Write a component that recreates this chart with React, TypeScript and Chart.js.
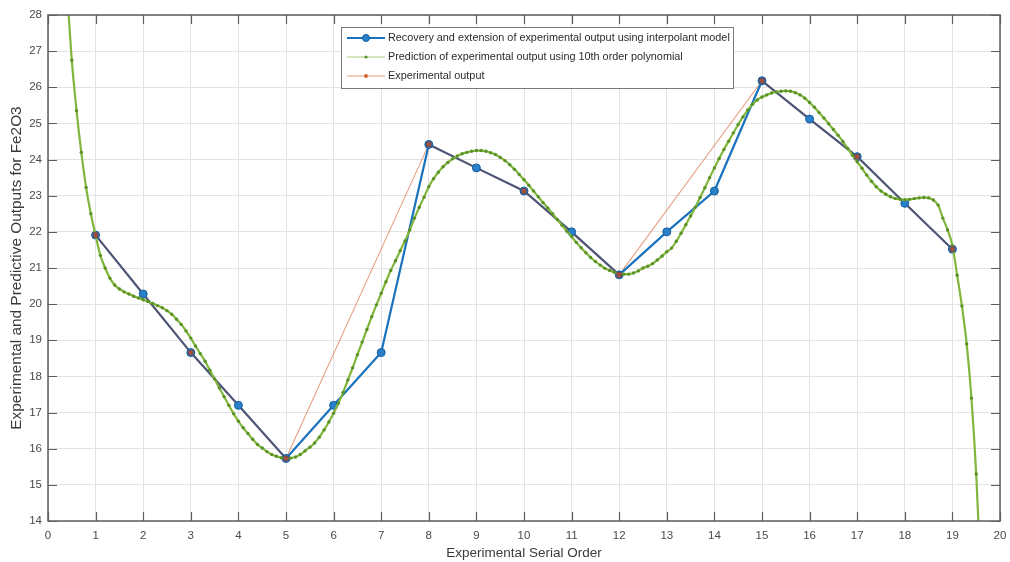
import React, { useEffect, useRef } from "react";
import { Chart, registerables } from "chart.js";

Chart.register(...registerables);

// ---------------- data ----------------
const recoveryX = [1, 2, 3, 4, 5, 6, 7, 8, 9, 10, 11, 12, 13, 14, 15, 16, 17, 18, 19];
const recoveryY = [21.91, 20.28, 18.66, 17.2, 15.73, 17.2, 18.66, 24.42, 23.77, 23.13, 22.0, 20.81, 22.0, 23.13, 26.18, 25.12, 24.08, 22.79, 21.52];

const experimentalX = [1, 3, 5, 8, 10, 12, 15, 17, 19];
const experimentalY = [21.91, 18.66, 15.73, 24.42, 23.13, 20.81, 26.18, 24.08, 21.52];

// 10th order polynomial prediction, read every 0.1 from x = 0.4 to 19.6
const POLY_START = 0.4;
const POLY_STEP = 0.1;
const polyY = [
  28.7, 26.75, 25.35, 24.2, 23.23, 22.5, 21.9, 21.35, 21.0, 20.72,
  20.53, 20.42, 20.34, 20.28, 20.22, 20.17, 20.12, 20.07, 20.02, 19.96,
  19.9, 19.82, 19.72, 19.58, 19.44, 19.26, 19.06, 18.84, 18.63, 18.42,
  18.17, 17.93, 17.68, 17.44, 17.2, 16.97, 16.76, 16.58, 16.42, 16.26,
  16.12, 16.02, 15.92, 15.84, 15.79, 15.75, 15.73, 15.74, 15.77, 15.84,
  15.94, 16.04, 16.16, 16.32, 16.52, 16.74, 16.98, 17.26, 17.56, 17.9,
  18.24, 18.6, 18.95, 19.3, 19.65, 19.98, 20.3, 20.62, 20.93, 21.2,
  21.48, 21.75, 22.05, 22.38, 22.68, 22.96, 23.25, 23.47, 23.65, 23.8,
  23.92, 24.02, 24.1, 24.16, 24.2, 24.23, 24.25, 24.25, 24.23, 24.19,
  24.14, 24.06, 23.97, 23.86, 23.73, 23.59, 23.44, 23.29, 23.13, 22.97,
  22.81, 22.66, 22.5, 22.34, 22.18, 22.02, 21.87, 21.71, 21.56, 21.42,
  21.29, 21.18, 21.08, 20.99, 20.93, 20.88, 20.85, 20.83, 20.83, 20.86,
  20.92, 21.0, 21.05, 21.12, 21.22, 21.33, 21.45, 21.55, 21.74, 21.96,
  22.2, 22.44, 22.68, 22.95, 23.22, 23.5, 23.77, 24.03, 24.28, 24.51,
  24.74, 24.97, 25.18, 25.37, 25.53, 25.65, 25.73, 25.79, 25.84, 25.87,
  25.89, 25.9, 25.89, 25.85, 25.79, 25.7, 25.58, 25.45, 25.3, 25.15,
  24.99, 24.83, 24.67, 24.5, 24.31, 24.12, 23.94, 23.76, 23.57, 23.4,
  23.25, 23.13, 23.04, 22.97, 22.92, 22.9, 22.89, 22.9, 22.92, 22.94,
  22.95, 22.94, 22.88, 22.74, 22.38, 22.05, 21.62, 20.8, 19.95, 18.9,
  17.4, 15.3, 12.4,
];

const xTicks = [0, 1, 2, 3, 4, 5, 6, 7, 8, 9, 10, 11, 12, 13, 14, 15, 16, 17, 18, 19, 20];
const yTicks = [14, 15, 16, 17, 18, 19, 20, 21, 22, 23, 24, 25, 26, 27, 28];

const legendLabels = [
  "Recovery and extension of experimental output using interpolant model",
  "Prediction of experimental output using 10th order polynomial",
  "Experimental output",
];
const xTitle = "Experimental Serial Order";
const yTitle = "Experimental and Predictive Outputs for Fe2O3";

// ---------------- styles ----------------
const BLUE = "#1a72bd";
const SLATE = "#4d5677";
const GREEN = "#80b63c";
const GREEN_DOT = "#5a9226";
const ORANGE = "rgba(220,120,80,0.7)";
const FONT = "'Liberation Sans', Arial, Helvetica, sans-serif";

function expAt(x: number): number | null {
  for (let i = 0; i < experimentalX.length - 1; i++) {
    const x0 = experimentalX[i], x1 = experimentalX[i + 1];
    if (x >= x0 && x <= x1) {
      const t = (x - x0) / (x1 - x0);
      return experimentalY[i] + t * (experimentalY[i + 1] - experimentalY[i]);
    }
  }
  return null;
}

function overlaps(i: number): boolean {
  const a = expAt(recoveryX[i]);
  const b = expAt(recoveryX[i + 1]);
  if (a === null || b === null) return false;
  return Math.abs(a - recoveryY[i]) < 0.12 && Math.abs(b - recoveryY[i + 1]) < 0.12;
}

const framePlugin = {
  id: "frame",
  afterDatasetsDraw(chart: any) {
    const { ctx, chartArea: a, scales } = chart;
    const xs = scales.x, ys = scales.y;
    ctx.save();
    ctx.strokeStyle = "#5e5e5e";
    ctx.lineWidth = 1.5;
    ctx.strokeRect(a.left, a.top, a.right - a.left, a.bottom - a.top);
    const L = 9;
    ctx.beginPath();
    xTicks.forEach((t) => {
      const px = Math.round(xs.getPixelForValue(t)) + 0.5;
      ctx.moveTo(px, a.bottom);
      ctx.lineTo(px, a.bottom - L);
      ctx.moveTo(px, a.top);
      ctx.lineTo(px, a.top + L);
    });
    yTicks.forEach((t) => {
      const py = Math.round(ys.getPixelForValue(t)) + 0.5;
      ctx.moveTo(a.left, py);
      ctx.lineTo(a.left + L, py);
      ctx.moveTo(a.right, py);
      ctx.lineTo(a.right - L, py);
    });
    ctx.lineWidth = 1.2;
    ctx.stroke();
    ctx.restore();
  },
};

const legendPlugin = {
  id: "customLegend",
  afterDraw(chart: any) {
    const { ctx } = chart;
    const bx = 341, by = 27, bw = 392, bh = 61;
    ctx.save();
    ctx.fillStyle = "#ffffff";
    ctx.fillRect(bx, by, bw, bh);
    ctx.strokeStyle = "#7a7a7a";
    ctx.lineWidth = 1;
    ctx.strokeRect(bx + 0.5, by + 0.5, bw, bh);
    const rows = [38, 57, 76];
    const x0 = 347, x1 = 385, mx = 366;
    // row 1: blue
    ctx.strokeStyle = BLUE;
    ctx.lineWidth = 2;
    ctx.beginPath();
    ctx.moveTo(x0, rows[0]);
    ctx.lineTo(x1, rows[0]);
    ctx.stroke();
    ctx.fillStyle = "#2a80c8";
    ctx.strokeStyle = "#0f5fa5";
    ctx.lineWidth = 1;
    ctx.beginPath();
    ctx.arc(mx, rows[0], 3.5, 0, Math.PI * 2);
    ctx.fill();
    ctx.stroke();
    // row 2: green
    ctx.strokeStyle = "#a9cc7a";
    ctx.lineWidth = 1;
    ctx.beginPath();
    ctx.moveTo(x0, rows[1]);
    ctx.lineTo(x1, rows[1]);
    ctx.stroke();
    ctx.fillStyle = GREEN_DOT;
    ctx.beginPath();
    ctx.arc(mx, rows[1], 1.6, 0, Math.PI * 2);
    ctx.fill();
    // row 3: orange
    ctx.strokeStyle = "rgba(225,130,90,0.8)";
    ctx.lineWidth = 1;
    ctx.beginPath();
    ctx.moveTo(x0, rows[2]);
    ctx.lineTo(x1, rows[2]);
    ctx.stroke();
    ctx.fillStyle = "#d9622e";
    ctx.beginPath();
    ctx.arc(mx, rows[2], 2, 0, Math.PI * 2);
    ctx.fill();
    // texts
    ctx.fillStyle = "#2b2b2b";
    ctx.font = `10.85px ${FONT}`;
    ctx.textBaseline = "middle";
    ctx.textAlign = "left";
    legendLabels.forEach((t, i) => ctx.fillText(t, 388, rows[i]));
    ctx.restore();
  },
};

export default function App() {
  const ref = useRef<HTMLCanvasElement | null>(null);

  useEffect(() => {
    if (!ref.current) return;
    const polyData = polyY.map((y, i) => ({ x: +(POLY_START + i * POLY_STEP).toFixed(2), y }));
    const recData = recoveryX.map((x, i) => ({ x, y: recoveryY[i] }));
    const expData = experimentalX.map((x, i) => ({ x, y: experimentalY[i] }));

    const chart = new Chart(ref.current, {
      type: "line",
      data: {
        datasets: [
          {
            label: legendLabels[2],
            data: expData,
            borderColor: ORANGE,
            borderWidth: 1.1,
            pointRadius: 0,
            tension: 0,
            order: 4,
          },
          {
            label: legendLabels[0],
            data: recData,
            borderColor: BLUE,
            borderWidth: 2.2,
            segment: {
              borderColor: (c: any) => (overlaps(c.p0DataIndex) ? SLATE : BLUE),
            },
            pointStyle: "circle",
            pointRadius: 4,
            pointBackgroundColor: "#2a80c8",
            pointBorderColor: "#125fa0",
            pointBorderWidth: 1,
            tension: 0,
            order: 3,
          },
          {
            label: legendLabels[1],
            data: polyData,
            borderColor: GREEN,
            borderWidth: 2.2,
            pointRadius: 1.7,
            pointBackgroundColor: GREEN_DOT,
            pointBorderWidth: 0,
            cubicInterpolationMode: "monotone",
            clip: 0,
            order: 2,
          },
          {
            label: "expMarkers",
            data: expData,
            showLine: false,
            pointStyle: "rect",
            pointRadius: 3.3,
            pointBackgroundColor: "#a9503d",
            pointBorderColor: "#6a4b58",
            pointBorderWidth: 1,
            order: 1,
          },
        ],
      },
      options: {
        animation: false,
        responsive: false,
        events: [],
        layout: { padding: { top: 15, right: 10, left: 0, bottom: 0 } },
        plugins: {
          legend: { display: false },
          tooltip: { enabled: false },
        },
        scales: {
          x: {
            type: "linear",
            min: 0,
            max: 20,
            afterFit: (s: any) => {
              s.height = 41;
              s.paddingLeft = 0;
              s.paddingRight = 0;
            },
            afterBuildTicks: (s: any) => {
              s.ticks = xTicks.map((v) => ({ value: v }));
            },
            grid: { color: "#e3e3e3", lineWidth: 1, drawTicks: false },
            border: { display: false },
            ticks: {
              padding: 8,
              color: "#4a4a4a",
              font: { family: FONT, size: 11.5 },
              maxRotation: 0,
            },
            title: {
              display: true,
              text: xTitle,
              color: "#3a3a3a",
              font: { family: FONT, size: 13.5 },
              padding: { top: 0, bottom: 1 },
            },
          },
          y: {
            type: "linear",
            min: 14,
            max: 28,
            afterFit: (s: any) => {
              s.width = 48;
              s.paddingTop = 0;
              s.paddingBottom = 0;
            },
            afterBuildTicks: (s: any) => {
              s.ticks = yTicks.map((v) => ({ value: v }));
            },
            grid: { color: "#e3e3e3", lineWidth: 1, drawTicks: false },
            border: { display: false },
            ticks: {
              padding: 6,
              color: "#4a4a4a",
              font: { family: FONT, size: 11.5 },
            },
            title: {
              display: true,
              text: yTitle,
              color: "#3a3a3a",
              font: { family: FONT, size: 15.4 },
              padding: { top: 8, bottom: 0 },
            },
          },
        },
      },
      plugins: [framePlugin, legendPlugin],
    });
    return () => chart.destroy();
  }, []);

  return (
    <div style={{ position: "fixed", left: 0, top: 0, width: 1010, height: 562, background: "#fff" }}>
      <canvas ref={ref} width={1010} height={562} />
    </div>
  );
}
